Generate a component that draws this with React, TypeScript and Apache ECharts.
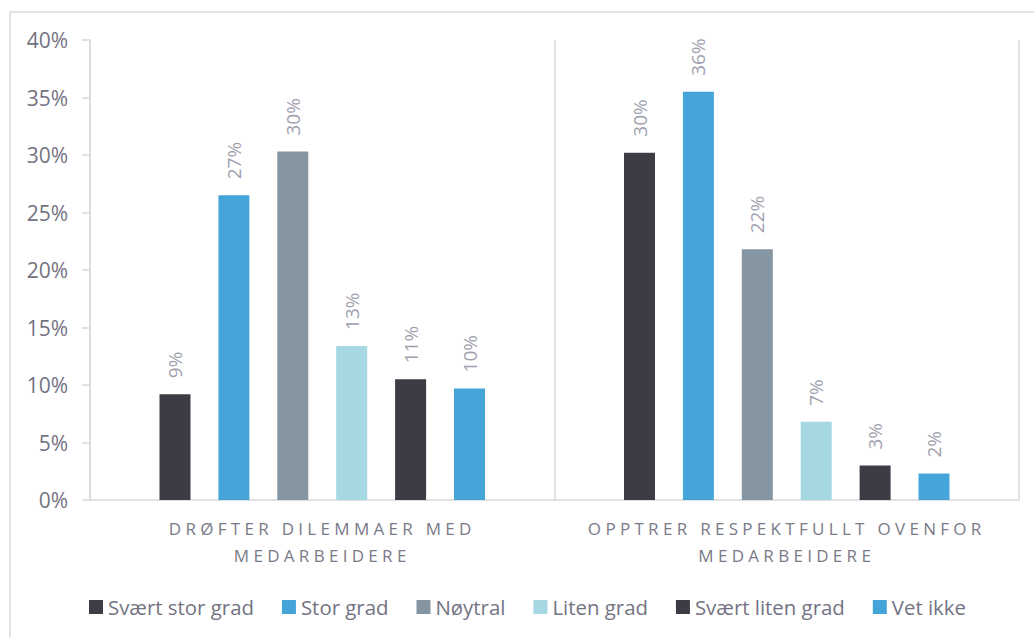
import React, { useEffect, useRef } from "react";
import * as echarts from "echarts";

const categories = [
  "DRØFTER DILEMMAER MED\nMEDARBEIDERE",
  "OPPTRER RESPEKTFULLT OVENFOR\nMEDARBEIDERE",
];
const seriesNames = [
  "Svært stor grad",
  "Stor grad",
  "Nøytral",
  "Liten grad",
  "Svært liten grad",
  "Vet ikke",
];
const seriesColors = ["#3c3c45", "#45a5d8", "#8596a2", "#a5d8e1", "#3c3c45", "#45a5d8"];
const svaertStorGrad = [9.2, 30.2];
const storGrad = [26.5, 35.5];
const noytral = [30.3, 21.8];
const litenGrad = [13.4, 6.8];
const svaertLitenGrad = [10.5, 3.0];
const vetIkke = [9.7, 2.3];
const seriesValues = [svaertStorGrad, storGrad, noytral, litenGrad, svaertLitenGrad, vetIkke];

const FONT = "'Open Sans', 'Noto Sans', sans-serif";

export default function App() {
  const ref = useRef<HTMLDivElement>(null);
  useEffect(() => {
    if (!ref.current) return;
    const chart = echarts.init(ref.current, null, { renderer: "svg" });
    const lines = new Set<string>();
    categories.forEach((c) => c.split("\n").forEach((l) => lines.add(l)));
    const spaceOut = () => {
      const texts = ref.current?.querySelectorAll("text") || [];
      texts.forEach((t) => {
        if (lines.has((t.textContent || "").trim())) {
          t.setAttribute("letter-spacing", "4.3");
        }
      });
    };
    chart.on("finished", spaceOut);
    chart.setOption({
      animation: false,
      textStyle: { fontFamily: FONT },
      graphic: [
        {
          type: "rect",
          silent: true,
          z: -10,
          shape: { x: 10, y: 12, width: 1100, height: 700 },
          style: { fill: "#ffffff", stroke: "#d9d9d9", lineWidth: 1.5 },
        },
      ],
      grid: { left: 90, right: 15, top: 40, bottom: 137, containLabel: false },
      legend: {
        top: 597,
        left: 89,
        padding: 0,
        itemWidth: 14,
        itemHeight: 14,
        itemGap: 28,
        icon: "rect",
        textStyle: { fontSize: 20.4, color: "#737383", fontFamily: FONT },
        data: seriesNames,
      },
      xAxis: {
        type: "category",
        data: categories,
        axisLine: { show: true, lineStyle: { color: "#d9d9d9", width: 1.5 } },
        axisTick: { show: false },
        splitLine: { show: true, lineStyle: { color: "#d9d9d9", width: 1.5 } },
        axisLabel: {
          fontSize: 17,
          color: "#7a7a88",
          lineHeight: 27,
          margin: 15,
          fontFamily: FONT,
          interval: 0,
        },
      },
      yAxis: {
        type: "value",
        min: 0,
        max: 40,
        interval: 5,
        axisLine: { show: true, lineStyle: { color: "#d9d9d9", width: 1.5 } },
        axisTick: { show: true, length: 8, lineStyle: { color: "#d9d9d9", width: 1.5 } },
        splitLine: { show: false },
        axisLabel: {
          formatter: "{value}%",
          fontSize: 21,
          color: "#737383",
          margin: 22,
          fontFamily: FONT,
        },
      },
      series: seriesNames.map((name, i) => ({
        name,
        type: "bar",
        data: seriesValues[i],
        barWidth: 31,
        barGap: "90%",
        itemStyle: { color: seriesColors[i] },
        label: {
          show: true,
          position: "top",
          rotate: 90,
          align: "left",
          verticalAlign: "middle",
          distance: 16,
          fontSize: 19,
          color: "#a0a0ae",
          fontFamily: FONT,
          formatter: (p: any) => Math.round(p.value) + "%",
        },
      })),
    });
    spaceOut();
    return () => {
      chart.dispose();
    };
  }, []);
  return (
    <div
      ref={ref}
      style={{ position: "fixed", left: 0, top: 0, width: 1034, height: 637, background: "#fff" }}
    />
  );
}
